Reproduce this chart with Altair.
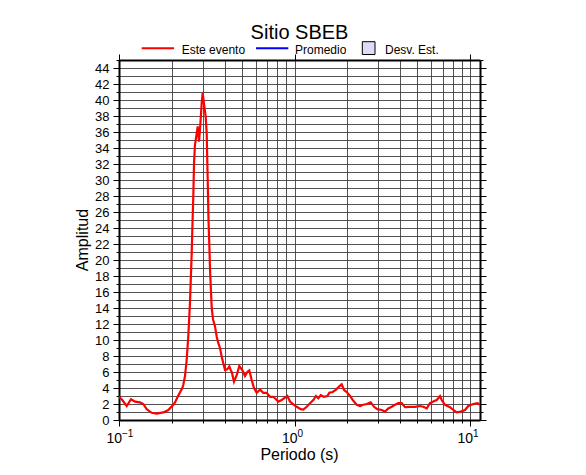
import altair as alt
import pandas as pd

# ---------------- data ----------------
periodo = [0.100, 0.1044, 0.1106, 0.1171, 0.1234, 0.1317, 0.1376, 0.1438, 0.1536, 0.1640,
           0.1788, 0.1910, 0.2039, 0.2085, 0.2170, 0.2295, 0.2325, 0.2377, 0.2430, 0.2481,
           0.2537, 0.2595, 0.2616, 0.2651, 0.2676, 0.2710, 0.2771, 0.2808, 0.2856, 0.2893,
           0.2959, 0.2998, 0.3062, 0.3119, 0.3160, 0.3202, 0.3236, 0.3270, 0.3301, 0.3375,
           0.3433, 0.3524, 0.3604, 0.3680, 0.3763, 0.3848, 0.3929, 0.4018, 0.4109, 0.4196,
           0.4251, 0.4330, 0.4388, 0.4521, 0.4684, 0.4847, 0.5041, 0.5223, 0.5383, 0.5527,
           0.5703, 0.5877, 0.6089, 0.6358, 0.6642, 0.6943, 0.7251, 0.7573, 0.7843, 0.8083,
           0.8455, 0.8829, 0.9099, 0.9428, 0.9845, 1.029, 1.085, 1.122, 1.174, 1.226,
           1.280, 1.326, 1.367, 1.410, 1.473, 1.538, 1.579, 1.651, 1.724, 1.800,
           1.857, 1.915, 1.984, 2.072, 2.163, 2.262, 2.362, 2.466, 2.578, 2.718,
           2.838, 2.964, 3.140, 3.280, 3.424, 3.580, 3.738, 3.904, 4.081, 4.262,
           4.551, 4.860, 5.190, 5.420, 5.667, 5.918, 6.180, 6.462, 6.748, 6.899,
           7.204, 7.691, 8.032, 8.398, 8.851, 9.365, 9.779, 10.44, 11.00, 11.40]
amplitud = [2.9, 2.5, 1.75, 2.6, 2.3, 2.2, 2.0, 1.35, 0.9, 0.8,
            0.95, 1.25, 1.9, 2.2, 3.0, 4.0, 4.4, 5.5, 7.5, 10.4,
            14.6, 20.8, 23.75, 28.0, 32.1, 34.4, 35.8, 36.7, 34.8, 36.25,
            39.6, 40.9, 39.2, 37.9, 35.8, 30.0, 25.0, 22.0, 18.75, 14.0,
            12.6, 11.7, 10.4, 9.6, 9.0, 7.9, 7.1, 6.25, 6.3, 6.5,
            6.7, 6.25, 6.0, 4.8, 5.6, 6.75, 6.25, 5.5, 6.0, 6.2,
            5.0, 4.0, 3.4, 3.8, 3.4, 3.4, 2.9, 2.9, 2.6, 2.3,
            2.5, 2.8, 3.0, 2.3, 1.95, 1.65, 1.35, 1.3, 1.65, 2.1,
            2.5, 3.0, 2.7, 3.1, 2.9, 3.0, 3.4, 3.5, 3.8, 4.2,
            4.45, 3.75, 3.5, 3.0, 2.4, 1.9, 1.75, 1.9, 2.0, 2.2,
            1.65, 1.35, 1.25, 1.05, 1.45, 1.65, 1.9, 2.1, 2.1, 1.6,
            1.65, 1.65, 1.75, 1.65, 1.45, 2.1, 2.3, 2.5, 3.0, 2.5,
            1.9, 1.6, 1.25, 0.95, 1.05, 1.25, 1.75, 2.0, 2.1, 1.9]

x_domain = [0.1, 11.4]
y_domain = [0, 45]
x_grid = [0.1, 0.2, 0.3, 0.4, 0.5, 0.6, 0.7, 0.8, 0.9,
          1, 2, 3, 4, 5, 6, 7, 8, 9, 10]
x_major = [0.1, 1, 10]
x_base = ["10", "10", "10"]
x_exp = ["\u22121", "0", "1"]
y_ticks = list(range(0, 46))

titulo = "Sitio SBEB"
x_titulo = "Periodo (s)"
y_titulo = "Amplitud"
leyenda = ["Este evento", "Promedio", "Desv. Est."]

# ---------------- chart ----------------
W, H = 361, 360
FONT = "Liberation Sans"
GRID = "#404040"

xscale = alt.Scale(type="log", domain=x_domain, nice=False)
yscale = alt.Scale(domain=y_domain, nice=False, zero=False)

x_major_test = "abs(log(datum.value)/LN10 - round(log(datum.value)/LN10)) < 0.01"
y_major_test = "datum.value % 2 === 0"

curve = pd.DataFrame({"periodo": periodo, "amplitud": amplitud})
one = pd.DataFrame({"k": [0]})

main = alt.Chart(curve).mark_line(color="#ff0000", strokeWidth=2.2).encode(
    x=alt.X("periodo:Q", scale=xscale, axis=alt.Axis(
        orient="bottom", values=x_grid, grid=True, gridColor=GRID, gridWidth=0.9,
        gridOpacity=1, labels=False, title=None, domain=True, domainColor="black",
        domainWidth=2, tickColor="black", tickWidth=1,
        tickSize={"condition": {"test": x_major_test, "value": 6}, "value": 3})),
    y=alt.Y("amplitud:Q", scale=yscale, axis=alt.Axis(
        orient="left", values=y_ticks, grid=True, gridColor=GRID, gridWidth=0.9,
        gridOpacity=1, labelExpr="datum.value % 2 === 0 ? datum.label : ''",
        labelFont=FONT, labelFontSize=13, labelColor="black", labelPadding=4,
        labelOverlap=False, title=None, domain=True, domainColor="black",
        domainWidth=2, tickColor="black", tickWidth=1,
        tickSize={"condition": {"test": y_major_test, "value": 6}, "value": 3})),
)

frame = alt.Chart(curve).mark_line(opacity=0).encode(
    x=alt.X("periodo:Q", scale=xscale, axis=alt.Axis(
        orient="top", values=x_major, grid=False, labels=False, title=None,
        domain=True, domainColor="black", domainWidth=2, tickColor="black",
        tickWidth=1, tickSize=6)),
    y=alt.Y("amplitud:Q", scale=yscale, axis=alt.Axis(
        orient="right", values=y_ticks, grid=False, labels=False, title=None,
        domain=True, domainColor="black", domainWidth=2, tickColor="black",
        tickWidth=1,
        tickSize={"condition": {"test": y_major_test, "value": 6}, "value": 3})),
)

ticklab = pd.DataFrame({"t": x_major, "base": x_base, "exp": x_exp})
xlab_base = alt.Chart(ticklab).mark_text(
    align="right", baseline="alphabetic", dx=3, font=FONT, fontSize=14, color="black"
).encode(x=alt.X("t:Q", scale=xscale, axis=None), y=alt.value(383.3), text="base:N")
xlab_exp = alt.Chart(ticklab).mark_text(
    align="left", baseline="alphabetic", dx=3, font=FONT, fontSize=10, color="black"
).encode(x=alt.X("t:Q", scale=xscale, axis=None), y=alt.value(377), text="exp:N")

title_mark = alt.Chart(one).mark_text(
    text=titulo, font=FONT, fontSize=20, align="center", baseline="alphabetic", color="black"
).encode(x=alt.value(W / 2), y=alt.value(-21.5))
xtitle_mark = alt.Chart(one).mark_text(
    text=x_titulo, font=FONT, fontSize=16, align="center", baseline="alphabetic", color="black"
).encode(x=alt.value(W / 2), y=alt.value(400))
ytitle_mark = alt.Chart(one).mark_text(
    text=y_titulo, font=FONT, fontSize=16, align="center", baseline="alphabetic",
    angle=270, color="black"
).encode(x=alt.value(-31), y=alt.value(H / 2))

leg_red = alt.Chart(one).mark_rule(color="#ff0000", strokeWidth=2).encode(
    x=alt.value(22.7), x2=alt.value(55), y=alt.value(-11.7))
leg_red_t = alt.Chart(one).mark_text(
    text=leyenda[0], font=FONT, fontSize=12, align="left", baseline="alphabetic", color="black"
).encode(x=alt.value(62.7), y=alt.value(-6.5))
leg_blue = alt.Chart(one).mark_rule(color="#0000ff", strokeWidth=2).encode(
    x=alt.value(137), x2=alt.value(169.3), y=alt.value(-11.7))
leg_blue_t = alt.Chart(one).mark_text(
    text=leyenda[1], font=FONT, fontSize=12, align="left", baseline="alphabetic", color="black"
).encode(x=alt.value(176), y=alt.value(-6.5))
leg_box = alt.Chart(one).mark_rect(fill="#dcdcf8", stroke="black", strokeWidth=1).encode(
    x=alt.value(243.3), x2=alt.value(256), y=alt.value(-18.3), y2=alt.value(-5.5))
leg_box_t = alt.Chart(one).mark_text(
    text=leyenda[2], font=FONT, fontSize=12, align="left", baseline="alphabetic", color="black"
).encode(x=alt.value(266), y=alt.value(-6.5))

chart = alt.layer(
    main, frame, xlab_base, xlab_exp, title_mark, xtitle_mark, ytitle_mark,
    leg_red, leg_red_t, leg_blue, leg_blue_t, leg_box, leg_box_t
).resolve_axis(x="independent", y="independent").properties(
    width=W, height=H,
    autosize=alt.AutoSizeParams(type="none"),
    padding={"left": 111, "top": 52, "right": 90, "bottom": 50},
    background="white",
).configure_view(stroke=None)

chart.save("out.html", embed_options={"renderer": "svg", "actions": False})
